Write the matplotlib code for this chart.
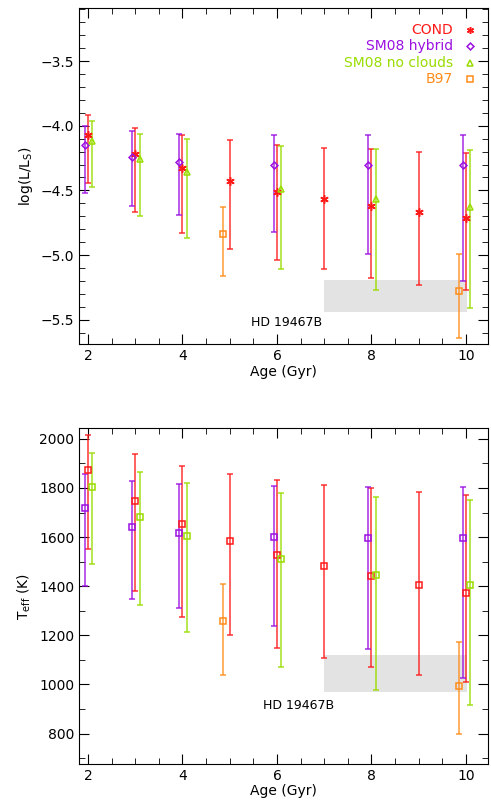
import matplotlib
matplotlib.use("Agg")
import matplotlib.pyplot as plt
from matplotlib.ticker import MultipleLocator

# ages
age_cond = [2, 3, 4, 5, 6, 7, 8, 9, 10]
age_sm = [2, 3, 4, 6, 8, 10]
age_b97 = [4.85, 9.85]

# log(L/Ls): value, upper, lower
lum_cond = [-4.07, -4.22, -4.33, -4.43, -4.51, -4.57, -4.62, -4.67, -4.71]
lum_cond_hi = [-3.92, -4.02, -4.07, -4.11, -4.15, -4.17, -4.18, -4.20, -4.21]
lum_cond_lo = [-4.44, -4.67, -4.83, -4.95, -5.04, -5.11, -5.18, -5.23, -5.27]
lum_hyb = [-4.15, -4.24, -4.28, -4.30, -4.30, -4.30]
lum_hyb_hi = [-4.00, -4.04, -4.06, -4.07, -4.07, -4.07]
lum_hyb_lo = [-4.52, -4.62, -4.69, -4.82, -4.99, -5.20]
lum_nc = [-4.12, -4.26, -4.36, -4.49, -4.57, -4.63]
lum_nc_hi = [-3.96, -4.06, -4.10, -4.16, -4.18, -4.19]
lum_nc_lo = [-4.47, -4.70, -4.87, -5.11, -5.27, -5.41]
lum_b97 = [-4.84, -5.28]
lum_b97_hi = [-4.63, -4.99]
lum_b97_lo = [-5.16, -5.64]

# Teff (K)
teff_cond = [1875, 1748, 1655, 1585, 1528, 1482, 1442, 1405, 1372]
teff_cond_hi = [2015, 1937, 1890, 1858, 1833, 1813, 1798, 1785, 1773]
teff_cond_lo = [1550, 1380, 1275, 1203, 1150, 1107, 1070, 1040, 1012]
teff_hyb = [1720, 1643, 1617, 1600, 1597, 1597]
teff_hyb_hi = [1857, 1830, 1815, 1808, 1805, 1805]
teff_hyb_lo = [1402, 1347, 1310, 1240, 1143, 1025]
teff_nc = [1803, 1683, 1605, 1510, 1447, 1405]
teff_nc_hi = [1943, 1863, 1822, 1778, 1762, 1752]
teff_nc_lo = [1490, 1325, 1215, 1072, 978, 915]
teff_b97 = [1257, 995]
teff_b97_hi = [1410, 1173]
teff_b97_lo = [1040, 800]

# HD 19467B observed region
obj_age = [7.0, 10.02]
obj_lum = [-5.44, -5.19]
obj_teff = [970, 1120]

RED = "#ff1a1a"
PURPLE = "#9b10e0"
GREEN = "#99dd00"
ORANGE = "#ff8c1a"
STAR = (6, 2, 0)


def draw_series(ax, x, y, hi, lo, dx, color, marker, ms, fill):
    xs = [v + dx for v in x]
    yerr = [[a - b for a, b in zip(y, lo)], [b - a for a, b in zip(y, hi)]]
    ax.errorbar(xs, y, yerr=yerr, fmt="none", ecolor=color, elinewidth=1.3,
                capsize=2, capthick=1.3, alpha=0.75, zorder=2)
    ax.plot(xs, y, linestyle="none", marker=marker, ms=ms, mec=color,
            mfc=color if fill else "none", mew=1.1, zorder=3)


def style_axes(ax):
    ax.tick_params(which="both", direction="in", top=True, right=True, labelsize=10)
    ax.tick_params(which="major", length=7)
    ax.tick_params(which="minor", length=4)
    ax.xaxis.set_major_locator(MultipleLocator(2))
    ax.xaxis.set_minor_locator(MultipleLocator(0.5))
    ax.set_xlim(1.81, 10.47)
    ax.set_xlabel("Age (Gyr)", fontsize=10, labelpad=1)


fig = plt.figure(figsize=(4.91, 8.1), dpi=100)
ax1 = fig.add_axes([0.161, 0.575, 0.833, 0.415])
ax2 = fig.add_axes([0.161, 0.057, 0.833, 0.414])

# top panel
ax1.fill_between(obj_age, obj_lum[0], obj_lum[1], color="#e3e3e3", lw=0, zorder=1)
draw_series(ax1, age_cond, lum_cond, lum_cond_hi, lum_cond_lo, 0.0, RED, STAR, 6, True)
draw_series(ax1, age_sm, lum_hyb, lum_hyb_hi, lum_hyb_lo, -0.07, PURPLE, "D", 3.5, False)
draw_series(ax1, age_sm, lum_nc, lum_nc_hi, lum_nc_lo, 0.09, GREEN, "^", 5, False)
draw_series(ax1, age_b97, lum_b97, lum_b97_hi, lum_b97_lo, 0.0, ORANGE, "s", 5, False)
ax1.set_ylim(-5.69, -3.09)
ax1.yaxis.set_major_locator(MultipleLocator(0.5))
ax1.yaxis.set_minor_locator(MultipleLocator(0.1))
ax1.set_ylabel(r"log(L/L$_\mathrm{S}$)", fontsize=10)
ax1.text(6.2, -5.52, "HD 19467B", ha="center", va="center", fontsize=9)
style_axes(ax1)

legend_items = [("COND", RED, STAR, True), ("SM08 hybrid", PURPLE, "D", False),
                ("SM08 no clouds", GREEN, "^", False), ("B97", ORANGE, "s", False)]
for i, (name, col, mk, fill) in enumerate(legend_items):
    yy = 0.935 - i * 0.049
    ax1.text(0.915, yy, name, color=col, fontsize=10, ha="right", va="center",
             transform=ax1.transAxes)
    ax1.plot([0.955], [yy], marker=mk, ms=5 if mk != "D" else 3.5, mec=col,
             mfc=col if fill else "none", mew=1.1, transform=ax1.transAxes,
             clip_on=False)

# bottom panel
ax2.fill_between(obj_age, obj_teff[0], obj_teff[1], color="#e3e3e3", lw=0, zorder=1)
draw_series(ax2, age_cond, teff_cond, teff_cond_hi, teff_cond_lo, 0.0, RED, "s", 5, False)
draw_series(ax2, age_sm, teff_hyb, teff_hyb_hi, teff_hyb_lo, -0.07, PURPLE, "s", 5, False)
draw_series(ax2, age_sm, teff_nc, teff_nc_hi, teff_nc_lo, 0.09, GREEN, "s", 5, False)
draw_series(ax2, age_b97, teff_b97, teff_b97_hi, teff_b97_lo, 0.0, ORANGE, "s", 5, False)
ax2.set_ylim(677, 2042)
ax2.yaxis.set_major_locator(MultipleLocator(200))
ax2.yaxis.set_minor_locator(MultipleLocator(100))
ax2.set_ylabel(r"T$_\mathrm{eff}$ (K)", fontsize=10)
ax2.text(6.45, 913, "HD 19467B", ha="center", va="center", fontsize=9)
style_axes(ax2)

fig.savefig("out.png", dpi=100)
